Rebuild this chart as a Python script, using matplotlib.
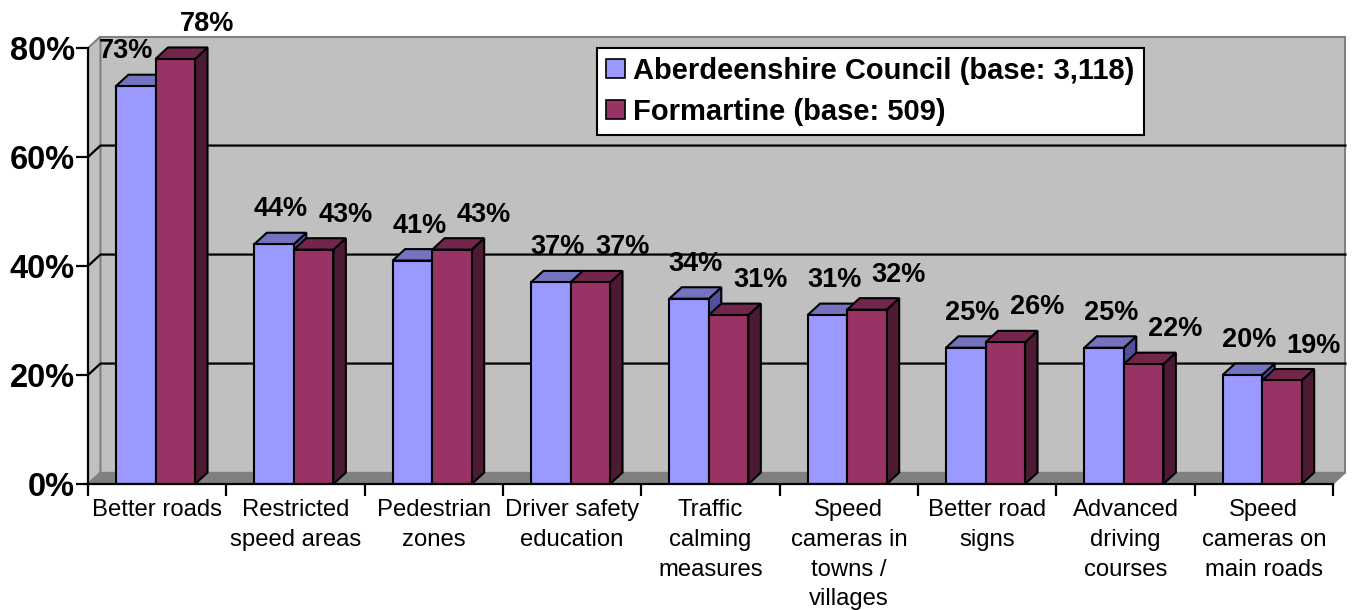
import matplotlib
matplotlib.use("Agg")
import matplotlib.pyplot as plt
from matplotlib.patches import Polygon, Patch

# data
categories = [
    "Better roads",
    "Restricted\nspeed areas",
    "Pedestrian\nzones",
    "Driver safety\neducation",
    "Traffic\ncalming\nmeasures",
    "Speed\ncameras in\ntowns /\nvillages",
    "Better road\nsigns",
    "Advanced\ndriving\ncourses",
    "Speed\ncameras on\nmain roads",
]
aberdeenshire = [73, 44, 41, 37, 34, 31, 25, 25, 20]
formartine = [78, 43, 43, 37, 31, 32, 26, 22, 19]
series_names = ["Aberdeenshire Council (base: 3,118)", "Formartine (base: 509)"]
y_ticks = [0, 20, 40, 60, 80]

# colours: front, top, side
blue = ("#9999FF", "#7373C0", "#5050A0")
red = ("#993366", "#73264D", "#4D1A33")
wall = "#C0C0C0"
floor = "#808080"
edge_grey = "#808080"

plt.rcParams["font.family"] = ["Liberation Sans", "DejaVu Sans"]

W, H = 1353, 610
fig = plt.figure(figsize=(W / 100, H / 100), dpi=100)

# pixel layout: x axis from 88px to 1333px, 0% at 484px from top, 5.45 px per %
px_per_cat = (1333 - 88) / len(categories)
px_per_pct = 5.45
xmax, ymax = 9.13, 86
ax = fig.add_axes([88 / W, (H - 484) / H, xmax * px_per_cat / W, ymax * px_per_pct / H])
ax.set_xlim(0, xmax)
ax.set_ylim(0, ymax)
ax.patch.set_visible(False)

n = len(categories)
dx, dy = 0.09, 2.1   # depth offset in data units
top = y_ticks[-1]

# walls and floor
ax.add_patch(Polygon([(dx, dy), (n + dx, dy), (n + dx, top + dy), (dx, top + dy)],
                     closed=True, facecolor=wall, edgecolor=edge_grey, lw=1.5, zorder=0))
ax.add_patch(Polygon([(0, 0), (dx, dy), (dx, top + dy), (0, top)],
                     closed=True, facecolor=wall, edgecolor=edge_grey, lw=1.5, zorder=0))
ax.add_patch(Polygon([(0, 0), (n, 0), (n + dx, dy), (dx, dy)],
                     closed=True, facecolor=floor, edgecolor=edge_grey, lw=1.0, zorder=0.5))
for v in y_ticks[1:-1]:
    ax.plot([0, dx, n + dx], [v, v + dy, v + dy], color="black", lw=1.6, zorder=1)


def bar3d(x0, w, v, cols):
    x1 = x0 + w
    front = [(x0, 0), (x1, 0), (x1, v), (x0, v)]
    roof = [(x0, v), (x1, v), (x1 + dx, v + dy), (x0 + dx, v + dy)]
    side = [(x1, 0), (x1 + dx, dy), (x1 + dx, v + dy), (x1, v)]
    for pts, c in ((side, cols[2]), (roof, cols[1]), (front, cols[0])):
        ax.add_patch(Polygon(pts, closed=True, facecolor=c, edgecolor="black",
                             lw=1.5, joinstyle="miter", zorder=2))


bw = 0.286
start = 0.202
lab_kw = dict(ha="center", va="center", fontsize=19.5, fontweight="bold", zorder=5, clip_on=False)
for i in range(n):
    a, f = aberdeenshire[i], formartine[i]
    xb = i + start
    xr = xb + bw
    bar3d(xb, bw, a, blue)
    bar3d(xr, bw, f, red)
    off_b = 0.05 if f - a < 4 else -0.07
    ax.text(xb + bw / 2 + off_b, a + 6.4, f"{a}%", **lab_kw)
    ax.text(xr + bw / 2 + 0.23, f + 6.4, f"{f}%", **lab_kw)

# axes
for s in ("top", "right"):
    ax.spines[s].set_visible(False)
ax.spines["left"].set_bounds(0, top)
ax.spines["bottom"].set_bounds(0, n)
for s in ("left", "bottom"):
    ax.spines[s].set_linewidth(1.6)
    ax.spines[s].set_zorder(4)

ax.set_yticks(y_ticks)
ax.set_yticklabels([f"{v}%" for v in y_ticks], fontsize=23.5, fontweight="bold")
ax.tick_params(axis="y", length=8.5, width=1.6, pad=1)

ax.set_xticks(range(n + 1))
ax.set_xticklabels([])
ax.tick_params(axis="x", which="major", length=8.5, width=1.6)
ax.set_xticks([i + 0.5 for i in range(n)], minor=True)
ax.set_xticklabels(categories, minor=True, fontsize=17.2, linespacing=1.45, va="top")
ax.tick_params(axis="x", which="minor", length=0, pad=11)

handles = [Patch(facecolor=blue[0], edgecolor="black", lw=1.2),
           Patch(facecolor=red[0], edgecolor="black", lw=1.2)]
leg = fig.legend(handles, series_names, loc="upper left",
                 bbox_to_anchor=(597 / W, 1 - 48 / H), frameon=True, fancybox=False,
                 prop={"size": 21, "weight": "bold"}, handlelength=0.65, handleheight=0.65,
                 handletextpad=0.3, labelspacing=0.45, borderpad=0.3, borderaxespad=0)
leg.get_frame().set_edgecolor("black")
leg.get_frame().set_linewidth(1.5)
leg.get_frame().set_alpha(1)

fig.savefig("out.png", dpi=100)
